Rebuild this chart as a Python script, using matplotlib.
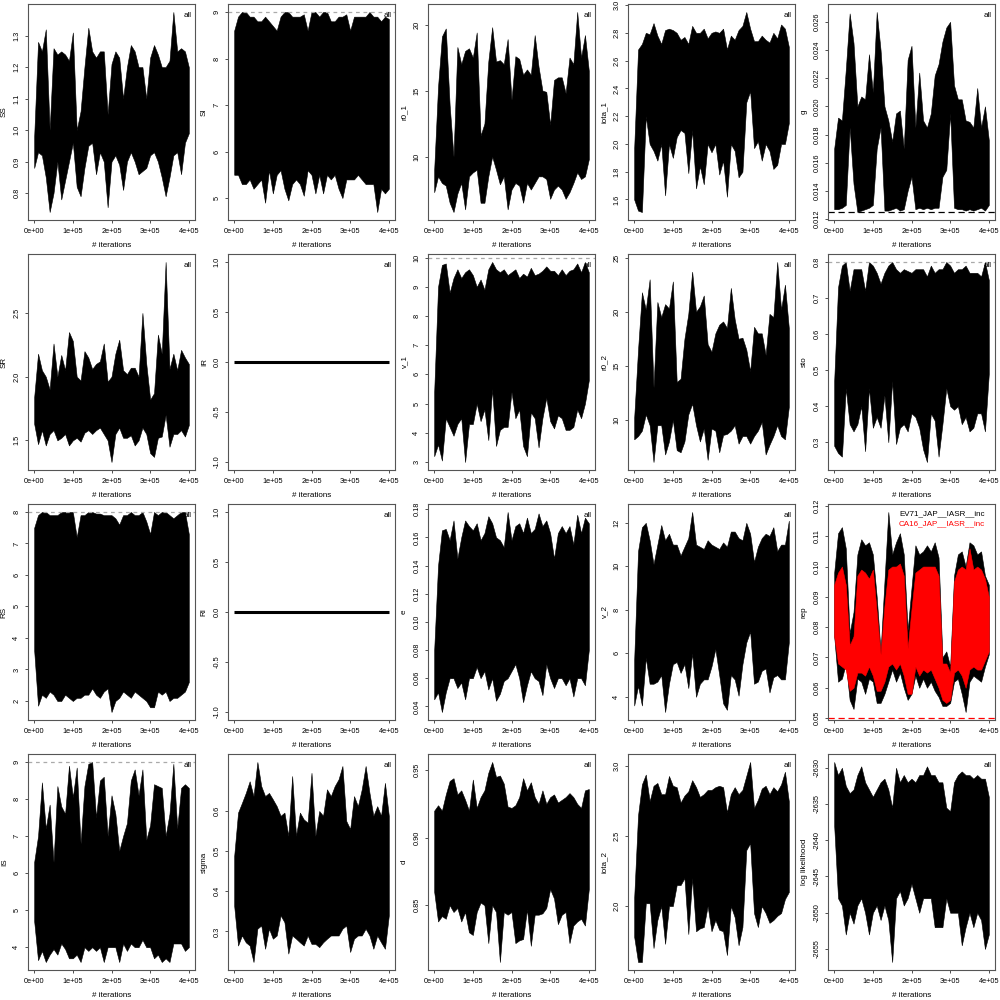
import matplotlib
matplotlib.use("Agg")
import matplotlib.pyplot as plt

plt.rcParams['font.family'] = ['Liberation Sans', 'DejaVu Sans']
plt.rcParams['font.size'] = 5.3

# iteration checkpoints (every 1e4 of the 4e5 MCMC iterations)
iters = list(range(0, 400001, 10000))

# upper / lower envelope of each trace
ss_hi = [0.98, 1.28, 1.25, 1.32, 1.00, 1.26, 1.24, 1.25, 1.24, 1.22, 1.31, 1.00, 1.06, 1.20, 1.325, 1.25, 1.23, 1.25, 1.25, 1.05, 1.21,
         1.25, 1.23, 1.10, 1.20, 1.27, 1.25, 1.20, 1.20, 1.10, 1.23, 1.27, 1.24, 1.20, 1.20, 1.22, 1.375, 1.25, 1.26, 1.25, 1.20]
ss_lo = [0.88, 0.93, 0.92, 0.85, 0.74, 0.80, 0.90, 0.78, 0.84, 0.90, 0.96, 0.82, 0.79, 0.88, 0.95, 0.96, 0.86, 0.93, 0.90, 0.755, 0.90,
         0.92, 0.89, 0.81, 0.90, 0.93, 0.90, 0.86, 0.87, 0.88, 0.92, 0.93, 0.90, 0.85, 0.79, 0.85, 0.92, 0.93, 0.86, 0.96, 0.99]

si_hi = [8.6, 8.9, 9.0, 9.0, 8.9, 8.9, 8.8, 8.8, 8.9, 8.8, 8.7, 8.6, 8.9, 9.0, 9.0, 8.9, 8.9, 8.9, 8.95, 8.6, 9.0,
         9.0, 8.9, 9.0, 9.0, 8.8, 8.8, 8.9, 8.9, 8.95, 8.6, 8.9, 8.9, 8.9, 8.9, 9.0, 8.9, 8.9, 8.8, 8.9, 8.85]
si_lo = [5.5, 5.5, 5.3, 5.3, 5.4, 5.2, 5.3, 5.4, 4.9, 5.6, 5.1, 5.5, 5.6, 5.2, 4.95, 5.3, 5.4, 5.3, 5.05, 5.6, 5.5,
         5.1, 5.5, 5.1, 5.5, 5.4, 5.5, 5.2, 5.0, 5.4, 5.4, 5.4, 5.5, 5.4, 5.3, 5.3, 5.3, 4.7, 5.2, 5.1, 5.2]

r01_hi = [9.0, 15.3, 19.1, 19.7, 13.9, 10.0, 18.3, 17.0, 18.0, 18.2, 17.5, 19.4, 11.6, 12.5, 17.2, 19.8, 17.2, 17.3, 17.0, 18.9, 14.3,
          17.6, 17.4, 16.2, 16.6, 16.2, 19.2, 16.8, 15.0, 14.9, 12.4, 15.8, 16.0, 16.0, 14.8, 17.5, 17.0, 20.95, 17.5, 19.2, 16.5]
r01_lo = [7.3, 8.5, 8.0, 7.8, 6.5, 5.8, 7.2, 8.0, 6.0, 8.5, 8.8, 9.0, 6.5, 6.5, 8.5, 10.0, 9.0, 7.9, 8.5, 6.0, 7.5,
          8.0, 7.8, 6.5, 8.0, 7.5, 8.0, 8.5, 8.5, 8.3, 6.8, 7.5, 7.8, 7.5, 6.8, 7.3, 8.0, 8.8, 8.3, 8.5, 9.8]

iota1_hi = [1.97, 2.68, 2.72, 2.80, 2.79, 2.87, 2.78, 2.72, 2.82, 2.83, 2.82, 2.80, 2.75, 2.77, 2.72, 2.85, 2.80, 2.80, 2.83, 2.76, 2.80,
            2.81, 2.80, 2.83, 2.68, 2.78, 2.75, 2.82, 2.85, 2.95, 2.83, 2.74, 2.74, 2.78, 2.75, 2.73, 2.80, 2.76, 2.86, 2.83, 2.70]
iota1_lo = [1.60, 1.52, 1.51, 2.20, 2.00, 1.95, 1.88, 2.00, 1.63, 2.00, 1.90, 2.05, 2.10, 2.08, 1.79, 2.10, 1.68, 1.84, 1.71, 2.00, 1.94,
            2.00, 1.78, 1.88, 1.62, 2.00, 1.95, 1.76, 1.80, 2.30, 2.38, 1.97, 2.02, 1.88, 2.00, 1.95, 1.82, 1.85, 2.00, 2.00, 2.15]

g_hi = [0.0170, 0.0192, 0.0190, 0.0226, 0.0266, 0.0245, 0.0200, 0.0207, 0.0205, 0.0237, 0.0210, 0.0267, 0.0240, 0.0200, 0.0190, 0.0175,
        0.0195, 0.0197, 0.0170, 0.0233, 0.0243, 0.0185, 0.0224, 0.0190, 0.0185, 0.0195, 0.0222, 0.0230, 0.0246, 0.0256, 0.0260,
        0.0215, 0.0205, 0.0205, 0.0190, 0.0189, 0.0185, 0.0213, 0.0185, 0.0200, 0.0176]
g_lo = [0.0127, 0.0127, 0.0128, 0.0130, 0.0185, 0.0145, 0.0125, 0.0126, 0.0127, 0.0128, 0.0130, 0.0170, 0.0185, 0.0126, 0.0126, 0.0127,
        0.0128, 0.0126, 0.0127, 0.0140, 0.0150, 0.0127, 0.0128, 0.0127, 0.0128, 0.0127, 0.0128, 0.0128, 0.0150, 0.0155, 0.0195,
        0.0128, 0.0127, 0.0127, 0.0126, 0.0127, 0.0126, 0.0127, 0.0128, 0.0126, 0.0130]

sr_hi = [1.84, 2.18, 2.05, 2.00, 1.90, 2.26, 2.00, 2.17, 2.05, 2.35, 2.28, 2.00, 1.97, 2.20, 2.15, 2.06, 2.10, 2.12, 2.26, 1.96, 2.00,
         2.18, 2.29, 2.05, 2.02, 2.07, 2.07, 2.00, 2.50, 2.10, 1.82, 1.87, 2.33, 2.18, 2.90, 2.06, 2.18, 2.05, 2.21, 2.15, 2.10]
sr_lo = [1.63, 1.47, 1.58, 1.46, 1.55, 1.58, 1.50, 1.52, 1.55, 1.46, 1.50, 1.52, 1.49, 1.56, 1.58, 1.55, 1.58, 1.60, 1.55, 1.50, 1.33,
         1.55, 1.60, 1.52, 1.52, 1.54, 1.46, 1.50, 1.60, 1.55, 1.40, 1.37, 1.52, 1.53, 1.70, 1.45, 1.55, 1.55, 1.58, 1.53, 1.62]

ir_trace = [0.0] * 41

v1_hi = [5.4, 9.0, 9.75, 9.8, 8.8, 9.3, 9.6, 9.3, 9.5, 9.6, 9.4, 9.0, 9.25, 8.9, 9.6, 9.85, 9.6, 9.5, 9.6, 9.4, 9.5,
         9.6, 9.3, 9.45, 9.35, 9.65, 9.4, 9.45, 9.55, 9.7, 9.55, 9.55, 9.4, 9.6, 9.4, 9.55, 9.6, 9.8, 9.5, 9.85, 9.5]
v1_lo = [3.2, 3.6, 3.05, 4.5, 4.2, 3.9, 4.3, 4.5, 3.0, 4.3, 4.3, 5.0, 4.4, 4.8, 3.75, 5.5, 3.55, 4.1, 4.2, 4.2, 5.4,
         4.5, 4.8, 3.55, 3.2, 4.7, 4.5, 3.5, 4.5, 5.2, 4.4, 4.15, 4.6, 4.5, 4.1, 4.1, 4.2, 4.8, 4.5, 5.0, 5.8]

r02_hi = [10.2, 16.5, 21.8, 20.2, 23.0, 13.0, 20.9, 19.5, 20.7, 20.3, 22.8, 13.5, 13.8, 17.5, 19.8, 23.7, 20.0, 20.5, 21.5, 17.0, 16.3,
          18.0, 18.8, 19.1, 18.5, 22.2, 19.3, 17.5, 17.6, 16.5, 14.5, 18.6, 18.0, 18.0, 16.0, 19.8, 19.5, 24.6, 20.2, 22.5, 18.5]
r02_lo = [8.2, 8.5, 9.0, 10.5, 9.5, 6.1, 9.5, 9.5, 6.8, 8.0, 10.0, 7.2, 7.0, 8.0, 10.5, 11.5, 9.5, 8.0, 9.2, 6.3, 9.2,
          9.0, 7.0, 8.6, 8.7, 9.0, 9.5, 7.8, 8.5, 8.5, 7.8, 8.5, 9.0, 9.8, 6.8, 7.7, 8.5, 9.5, 8.5, 8.2, 11.2]

sto_hi = [0.47, 0.73, 0.79, 0.80, 0.72, 0.78, 0.78, 0.78, 0.72, 0.80, 0.79, 0.77, 0.74, 0.77, 0.79, 0.80, 0.78, 0.77, 0.78, 0.775, 0.77,
          0.78, 0.78, 0.78, 0.76, 0.79, 0.77, 0.78, 0.78, 0.80, 0.79, 0.77, 0.78, 0.78, 0.79, 0.77, 0.77, 0.77, 0.76, 0.80, 0.75]
sto_lo = [0.29, 0.27, 0.26, 0.45, 0.35, 0.33, 0.35, 0.40, 0.275, 0.45, 0.34, 0.37, 0.34, 0.43, 0.30, 0.47, 0.295, 0.34, 0.35, 0.33, 0.38,
          0.37, 0.34, 0.28, 0.245, 0.38, 0.36, 0.26, 0.35, 0.45, 0.40, 0.39, 0.40, 0.35, 0.37, 0.33, 0.34, 0.38, 0.38, 0.33, 0.49]

rs_hi = [7.5, 7.9, 8.0, 8.0, 7.9, 7.9, 7.9, 8.0, 8.0, 8.0, 8.0, 7.2, 7.9, 7.9, 8.0, 8.0, 7.95, 7.95, 7.9, 7.9, 7.9,
         7.8, 7.6, 7.9, 7.9, 8.0, 7.9, 7.9, 8.0, 7.7, 7.3, 8.0, 7.9, 8.0, 8.0, 7.9, 7.8, 7.9, 8.0, 8.0, 7.3]
rs_lo = [3.6, 1.85, 2.2, 2.1, 2.3, 2.2, 2.0, 2.0, 2.2, 2.1, 2.0, 2.1, 2.1, 2.2, 2.2, 2.4, 2.2, 2.1, 2.3, 2.4, 1.65,
         2.0, 2.1, 2.3, 2.2, 2.1, 2.3, 2.2, 2.1, 2.0, 1.8, 1.8, 2.3, 2.2, 2.3, 2.0, 2.1, 2.1, 2.2, 2.3, 2.6]

ri_trace = [0.0] * 41

e_hi = [0.080, 0.140, 0.165, 0.166, 0.158, 0.172, 0.145, 0.160, 0.172, 0.168, 0.165, 0.170, 0.158, 0.163, 0.175, 0.170, 0.160, 0.158,
        0.153, 0.178, 0.158, 0.168, 0.170, 0.163, 0.174, 0.163, 0.166, 0.177, 0.168, 0.172, 0.163, 0.145, 0.163, 0.168, 0.163,
        0.168, 0.155, 0.176, 0.163, 0.174, 0.170]
e_lo = [0.045, 0.050, 0.036, 0.050, 0.060, 0.060, 0.053, 0.057, 0.045, 0.060, 0.060, 0.068, 0.060, 0.065, 0.052, 0.060, 0.044, 0.049,
        0.058, 0.060, 0.065, 0.070, 0.060, 0.043, 0.055, 0.065, 0.060, 0.058, 0.048, 0.070, 0.060, 0.053, 0.060, 0.060, 0.055,
        0.060, 0.047, 0.060, 0.060, 0.055, 0.080]

v2_hi = [5.7, 10.7, 11.8, 12.0, 11.2, 10.1, 11.0, 11.9, 11.2, 11.5, 11.0, 11.0, 10.5, 10.9, 11.3, 12.5, 11.0, 10.9, 10.8, 11.2, 11.0,
         10.9, 10.8, 11.1, 10.9, 11.6, 11.6, 11.3, 11.2, 12.0, 11.5, 10.2, 10.9, 11.3, 11.5, 11.4, 11.8, 10.7, 11.0, 11.0, 12.1]
v2_lo = [3.6, 4.5, 3.6, 5.8, 4.6, 4.6, 4.7, 5.0, 3.3, 4.6, 5.5, 5.6, 5.1, 5.5, 4.4, 6.0, 4.0, 4.6, 4.8, 4.8, 5.4,
         6.2, 5.0, 3.7, 3.4, 5.0, 4.8, 4.05, 5.5, 6.5, 7.0, 4.6, 4.7, 5.2, 5.3, 4.2, 4.9, 5.0, 4.8, 4.8, 6.5]

ev71_hi = [0.098, 0.111, 0.113, 0.106, 0.078, 0.085, 0.104, 0.109, 0.107, 0.108, 0.104, 0.090, 0.072, 0.095, 0.118, 0.104, 0.108,
           0.111, 0.104, 0.079, 0.093, 0.107, 0.104, 0.105, 0.107, 0.105, 0.108, 0.103, 0.070, 0.072, 0.067, 0.097, 0.104,
           0.105, 0.100, 0.108, 0.107, 0.104, 0.105, 0.097, 0.094]
ev71_lo = [0.077, 0.062, 0.063, 0.068, 0.056, 0.053, 0.063, 0.062, 0.058, 0.063, 0.062, 0.055, 0.055, 0.058, 0.062, 0.066, 0.062,
           0.065, 0.060, 0.056, 0.058, 0.064, 0.060, 0.063, 0.060, 0.062, 0.059, 0.057, 0.054, 0.054, 0.055, 0.062, 0.063,
           0.058, 0.052, 0.062, 0.064, 0.063, 0.062, 0.067, 0.071]
ca16_hi = [0.094, 0.098, 0.100, 0.094, 0.074, 0.077, 0.097, 0.099, 0.098, 0.096, 0.099, 0.085, 0.071, 0.087, 0.099, 0.100, 0.100,
           0.101, 0.097, 0.073, 0.086, 0.098, 0.099, 0.100, 0.100, 0.100, 0.100, 0.097, 0.068, 0.068, 0.065, 0.095, 0.099,
           0.100, 0.099, 0.106, 0.099, 0.100, 0.099, 0.096, 0.090]
ca16_lo = [0.077, 0.068, 0.067, 0.066, 0.059, 0.060, 0.065, 0.065, 0.064, 0.067, 0.064, 0.059, 0.059, 0.062, 0.067, 0.068, 0.066,
           0.068, 0.064, 0.058, 0.058, 0.067, 0.064, 0.066, 0.065, 0.066, 0.063, 0.060, 0.056, 0.055, 0.056, 0.065, 0.066,
           0.064, 0.060, 0.066, 0.067, 0.066, 0.066, 0.069, 0.072]

is_hi = [6.3, 7.0, 8.45, 7.2, 7.85, 6.3, 8.35, 7.8, 7.6, 8.9, 8.05, 8.85, 6.8, 8.35, 8.95, 9.0, 7.5, 8.5, 8.6, 7.0, 8.1,
         7.6, 6.6, 7.0, 7.35, 8.5, 8.8, 8.1, 8.8, 6.9, 7.3, 8.4, 8.35, 8.3, 7.0, 7.6, 8.95, 7.2, 8.3, 8.4, 8.3]
is_lo = [4.7, 3.65, 3.9, 3.6, 3.8, 3.95, 3.8, 4.1, 3.95, 3.7, 3.7, 3.8, 3.6, 4.0, 3.9, 4.0, 3.9, 4.0, 3.6, 4.0, 4.0,
         4.0, 3.6, 4.1, 3.9, 4.1, 4.0, 4.0, 4.2, 4.0, 4.0, 3.7, 3.8, 3.6, 3.7, 3.6, 4.1, 4.1, 4.1, 3.9, 4.0]

sigma_hi = [0.488, 0.596, 0.620, 0.645, 0.674, 0.637, 0.722, 0.662, 0.637, 0.645, 0.629, 0.612, 0.588, 0.596, 0.538, 0.687, 0.538,
            0.596, 0.579, 0.571, 0.695, 0.538, 0.600, 0.588, 0.654, 0.637, 0.662, 0.679, 0.712, 0.575, 0.555, 0.637, 0.612,
            0.654, 0.712, 0.645, 0.588, 0.612, 0.588, 0.670, 0.588]
sigma_lo = [0.364, 0.265, 0.290, 0.273, 0.265, 0.224, 0.307, 0.315, 0.257, 0.307, 0.282, 0.290, 0.340, 0.323, 0.245, 0.290, 0.282,
            0.273, 0.265, 0.290, 0.269, 0.269, 0.261, 0.273, 0.282, 0.290, 0.290, 0.290, 0.307, 0.315, 0.249, 0.282, 0.290,
            0.290, 0.307, 0.290, 0.257, 0.290, 0.273, 0.257, 0.340]

d_hi = [0.920, 0.924, 0.920, 0.932, 0.942, 0.944, 0.932, 0.935, 0.928, 0.920, 0.943, 0.922, 0.930, 0.935, 0.948, 0.956, 0.945, 0.946,
        0.940, 0.923, 0.922, 0.924, 0.930, 0.944, 0.935, 0.941, 0.930, 0.925, 0.935, 0.925, 0.930, 0.932, 0.926, 0.928, 0.930,
        0.933, 0.930, 0.925, 0.922, 0.935, 0.936]
d_lo = [0.860, 0.838, 0.842, 0.840, 0.850, 0.845, 0.848, 0.838, 0.845, 0.830, 0.828, 0.845, 0.852, 0.850, 0.822, 0.850, 0.845, 0.808,
        0.845, 0.843, 0.845, 0.822, 0.824, 0.825, 0.847, 0.820, 0.843, 0.843, 0.844, 0.848, 0.862, 0.855, 0.836, 0.843, 0.845,
        0.822, 0.835, 0.838, 0.840, 0.835, 0.862]

iota2_hi = [2.06, 2.65, 2.87, 2.94, 2.75, 2.86, 2.88, 2.80, 2.80, 2.93, 2.86, 2.85, 2.74, 2.79, 2.82, 2.90, 2.85, 2.78, 2.80, 2.83, 2.83,
            2.85, 2.86, 2.85, 2.67, 2.80, 2.85, 2.80, 2.83, 2.93, 3.03, 2.70, 2.76, 2.84, 2.86, 2.80, 2.85, 2.82, 2.87, 2.96, 2.75]
iota2_lo = [1.78, 1.60, 1.60, 2.02, 2.02, 1.70, 1.90, 2.00, 1.73, 2.00, 2.00, 2.15, 2.15, 2.20, 1.80, 2.20, 1.82, 1.84, 1.85, 2.00, 1.82,
            1.90, 1.83, 1.82, 1.65, 2.00, 1.92, 1.72, 1.85, 2.40, 2.45, 1.95, 1.85, 2.00, 1.95, 1.88, 1.90, 1.93, 1.95, 2.05, 2.10]

ll_hi = [-2629.2, -2631, -2630, -2632.5, -2633.5, -2633, -2631, -2629.8, -2632, -2633, -2634, -2633, -2632, -2631.5, -2633,
         -2635.5, -2630, -2632, -2631, -2632, -2631.5, -2632, -2631, -2631, -2629.8, -2631, -2631, -2632, -2632, -2635.5,
         -2636, -2632, -2631, -2630.5, -2631, -2631, -2631.5, -2631, -2631.5, -2631.5, -2634]
ll_lo = [-2638, -2648, -2649, -2653, -2650, -2651.5, -2649, -2648, -2650, -2653, -2650, -2649, -2651, -2649, -2651,
         -2656.8, -2648, -2647, -2649, -2648, -2646, -2648, -2650, -2648, -2648, -2648, -2652, -2652, -2652, -2648,
         -2650, -2650, -2650, -2654.5, -2652, -2650, -2652, -2650, -2651, -2655, -2653]

# panel: ylabel, traces [(hi, lo, colour)], y ticks, bound line (value, colour, style)
panels = [
    ("SS", [(ss_hi, ss_lo, "black")], [0.8, 0.9, 1.0, 1.1, 1.2, 1.3], None),
    ("SI", [(si_hi, si_lo, "black")], [5, 6, 7, 8, 9], (9, "#aaaaaa", (0, (3, 3)))),
    ("r0_1", [(r01_hi, r01_lo, "black")], [10, 15, 20], None),
    ("iota_1", [(iota1_hi, iota1_lo, "black")], [1.6, 1.8, 2.0, 2.2, 2.4, 2.6, 2.8, 3.0], None),
    ("g", [(g_hi, g_lo, "black")], [0.012, 0.014, 0.016, 0.018, 0.020, 0.022, 0.024, 0.026], (0.0125, "black", (0, (5, 3)))),
    ("SR", [(sr_hi, sr_lo, "black")], [1.5, 2.0, 2.5], None),
    ("IR", ir_trace, [-1.0, -0.5, 0.0, 0.5, 1.0], None),
    ("v_1", [(v1_hi, v1_lo, "black")], [3, 4, 5, 6, 7, 8, 9, 10], (10, "#aaaaaa", (0, (3, 3)))),
    ("r0_2", [(r02_hi, r02_lo, "black")], [10, 15, 20, 25], None),
    ("sto", [(sto_hi, sto_lo, "black")], [0.3, 0.4, 0.5, 0.6, 0.7, 0.8], (0.8, "#aaaaaa", (0, (3, 3)))),
    ("RS", [(rs_hi, rs_lo, "black")], [2, 3, 4, 5, 6, 7, 8], (8, "#aaaaaa", (0, (3, 3)))),
    ("RI", ri_trace, [-1.0, -0.5, 0.0, 0.5, 1.0], None),
    ("e", [(e_hi, e_lo, "black")], [0.04, 0.06, 0.08, 0.10, 0.12, 0.14, 0.16, 0.18], None),
    ("v_2", [(v2_hi, v2_lo, "black")], [4, 6, 8, 10, 12], None),
    ("rep", [(ev71_hi, ev71_lo, "black"), (ca16_hi, ca16_lo, "red")],
     [0.05, 0.06, 0.07, 0.08, 0.09, 0.10, 0.11, 0.12], (0.05, "red", (0, (5, 3)))),
    ("IS", [(is_hi, is_lo, "black")], [4, 5, 6, 7, 8, 9], (9, "#aaaaaa", (0, (3, 3)))),
    ("sigma", [(sigma_hi, sigma_lo, "black")], [0.3, 0.4, 0.5, 0.6], None),
    ("d", [(d_hi, d_lo, "black")], [0.85, 0.90, 0.95], None),
    ("iota_2", [(iota2_hi, iota2_lo, "black")], [2.0, 2.5, 3.0], None),
    ("log likelihood", [(ll_hi, ll_lo, "black")], [-2655, -2650, -2645, -2640, -2635, -2630], None),
]

x_ticks = [0, 100000, 200000, 300000, 400000]
rep_legend = ["EV71_JAP__IASR__inc", "CA16_JAP__IASR__inc"]


def r_labels(ticks):
    # R prints every label of an axis with the same number of decimals
    dec = max(len(f"{v:g}".split(".")[1]) if "." in f"{v:g}" else 0 for v in ticks)
    return [f"{v:.{dec}f}" for v in ticks]


fig = plt.figure(figsize=(10, 10), dpi=100)

for k, (name, traces, yticks, bound) in enumerate(panels):
    r, c = divmod(k, 5)
    ax = fig.add_axes([(28 + 200 * c) / 1000, 1 - (220 + 250 * r) / 1000, 0.167, 0.216])

    if isinstance(traces[0], float):
        # parameter fixed at zero
        ax.plot(iters, traces, color="black", lw=2.2, solid_capstyle="butt")
        ax.set_ylim(-1.08, 1.08)
    else:
        vals = []
        for hi, lo, col in traces:
            ax.fill_between(iters, lo, hi, color=col, lw=0.4, edgecolor=col)
            vals += hi + lo
        span = max(vals) - min(vals)
        ax.set_ylim(min(vals) - 0.04 * span, max(vals) + 0.04 * span)

    if bound is not None:
        ax.axhline(bound[0], color=bound[1], lw=0.9, linestyle=bound[2])

    ax.set_xlim(-16000, 416000)
    ax.set_xticks(x_ticks)
    ax.set_xticklabels([f"{v:.0e}" for v in x_ticks])
    ax.set_yticks(yticks)
    ax.set_yticklabels(r_labels(yticks))
    for lab in ax.get_yticklabels():
        lab.set_rotation(90)
        lab.set_va("center")

    ax.tick_params(length=2.5, width=0.6, pad=3, colors="#333333", labelcolor="black")
    for sp in ax.spines.values():
        sp.set_linewidth(0.8)
        sp.set_color("#555555")

    ax.set_xlabel("# iterations", labelpad=5, fontsize=5.8)
    ax.set_ylabel(name, labelpad=4, fontsize=5.8)

    if name == "rep":
        ax.text(0.94, 0.954, rep_legend[0], color="black", transform=ax.transAxes, ha="right", va="center", fontsize=5.8)
        ax.text(0.94, 0.907, rep_legend[1], color="red", transform=ax.transAxes, ha="right", va="center", fontsize=5.8)
    else:
        ax.text(0.982, 0.949, "all", transform=ax.transAxes, ha="right", va="center", fontsize=5.8)

fig.savefig("out.png", dpi=100)
